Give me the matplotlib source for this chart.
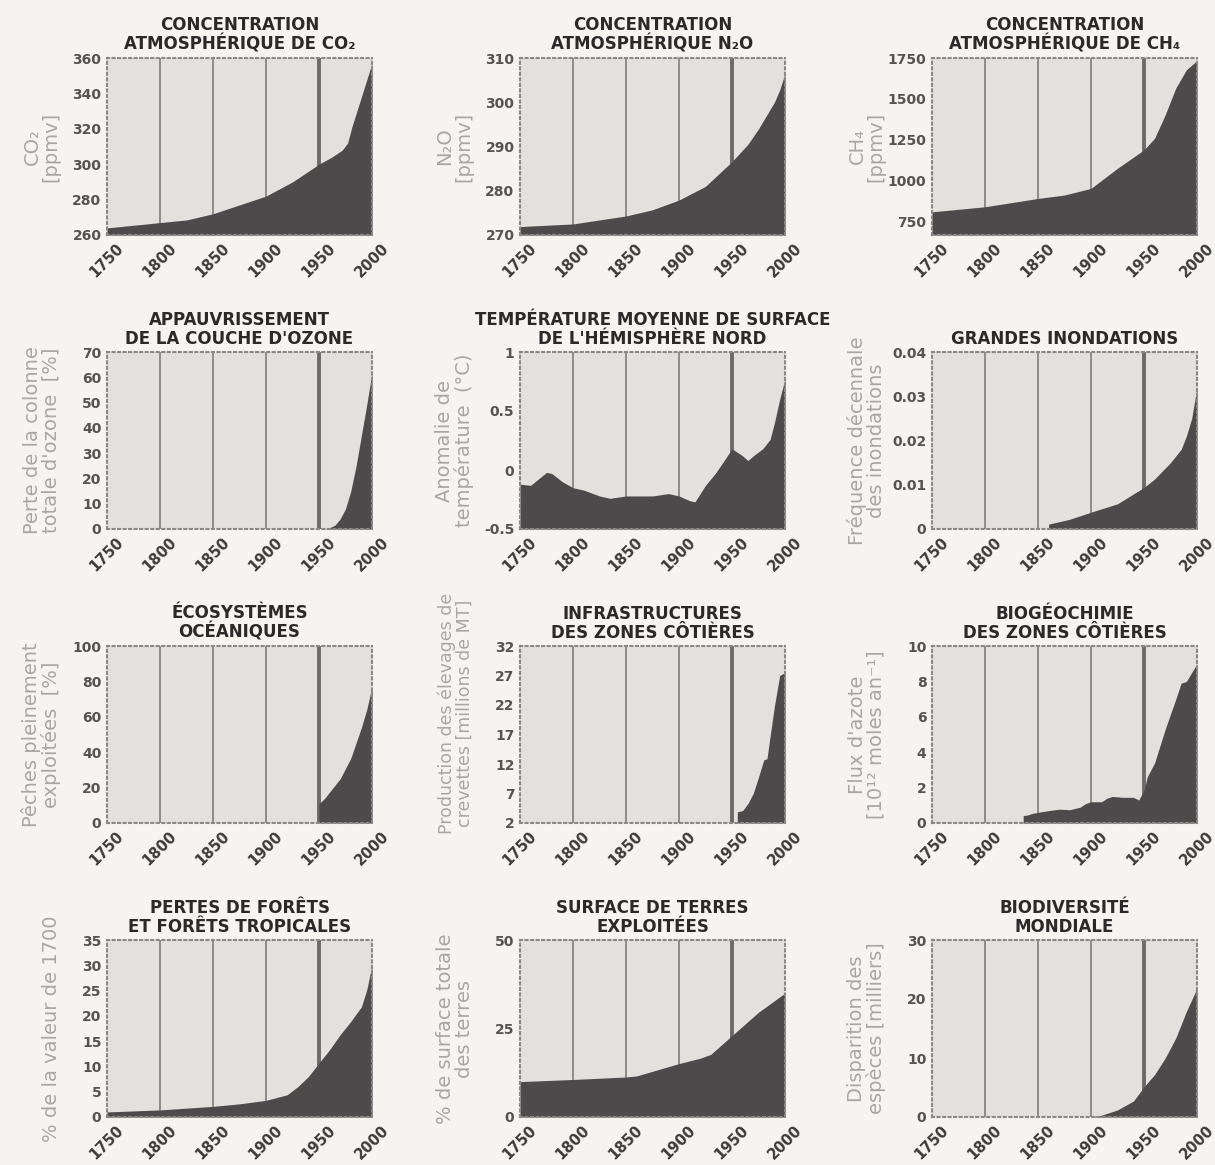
import matplotlib
matplotlib.use("Agg")
import matplotlib.pyplot as plt

# --- données ---
co2_years = [1750, 1800, 1825, 1850, 1875, 1900, 1925, 1950, 1962, 1972, 1977, 1981, 1991, 2000]
co2_ppmv = [264, 267, 268.5, 272, 277, 282, 290, 300, 304, 308, 312, 321, 340, 357]

n2o_years = [1750, 1800, 1850, 1875, 1900, 1925, 1950, 1965, 1975, 1985, 1990, 1995, 2000]
n2o_ppbv = [271.9, 272.5, 274.3, 275.7, 277.9, 281, 286.6, 290.5, 294, 298, 300, 302.8, 306.5]

ch4_years = [1750, 1800, 1850, 1875, 1900, 1925, 1950, 1960, 1970, 1980, 1990, 2000]
ch4_ppbv = [807, 838, 889, 910, 951, 1074, 1187, 1258, 1402, 1566, 1678, 1734]

ozone_years = [1955, 1960, 1965, 1970, 1975, 1980, 1985, 1990, 1995, 2000]
ozone_loss = [0, 0.5, 1.5, 4, 8, 15, 25, 37, 49, 62]

temp_years = [1750, 1760, 1775, 1780, 1790, 1800, 1810, 1825, 1835, 1850, 1875, 1890,
              1900, 1910, 1915, 1925, 1935, 1950, 1960, 1965, 1970, 1979, 1986, 1990,
              1995, 2000]
temp_anom = [-0.12, -0.13, -0.02, -0.03, -0.10, -0.15, -0.17, -0.22, -0.24, -0.22, -0.22,
             -0.20, -0.22, -0.26, -0.27, -0.13, -0.02, 0.18, 0.12, 0.08, 0.12, 0.18, 0.26,
             0.40, 0.60, 0.77]

flood_years = [1860, 1880, 1900, 1925, 1950, 1960, 1975, 1985, 1990, 1995, 2000]
flood_freq = [0.0011, 0.0022, 0.0038, 0.0057, 0.0094, 0.0113, 0.015, 0.018, 0.021, 0.025, 0.032]

fish_years = [1950, 1955, 1960, 1970, 1980, 1990, 1995, 2000]
fish_pct = [11, 13.7, 17.5, 25, 36.6, 54, 64, 77]

shrimp_years = [1955, 1960, 1965, 1970, 1975, 1980, 1983, 1985, 1990, 1995, 2000]
shrimp_mt = [3.9, 4.1, 5.3, 7, 9.8, 12.7, 12.9, 15.5, 21.8, 27, 27.5]

nitro_years = [1836, 1840, 1845, 1850, 1860, 1870, 1880, 1890, 1895, 1900, 1910, 1915,
               1920, 1930, 1940, 1945, 1950, 1953, 1960, 1970, 1980, 1985, 1990, 1995, 2000]
nitro_flux = [0.42, 0.45, 0.55, 0.6, 0.7, 0.78, 0.75, 0.9, 1.1, 1.2, 1.2, 1.4, 1.5, 1.45,
              1.45, 1.3, 1.85, 2.6, 3.4, 5.3, 7.0, 7.9, 8.0, 8.5, 9.0]

forest_years = [1750, 1800, 1850, 1875, 1900, 1920, 1930, 1940, 1950, 1960, 1970, 1980,
                1990, 1995, 2000]
forest_loss = [1.0, 1.4, 2.1, 2.6, 3.3, 4.4, 6.0, 8.0, 10.7, 13.3, 16.3, 18.9, 21.8, 25.1, 30]

land_years = [1750, 1800, 1850, 1860, 1900, 1920, 1930, 1950, 1975, 2000]
land_pct = [10, 10.6, 11.3, 11.6, 15.1, 16.6, 17.7, 23, 29.6, 35]

species_years = [1900, 1910, 1925, 1940, 1950, 1960, 1970, 1980, 1990, 2000]
species_lost = [0, 0.3, 1.2, 2.7, 5.1, 7.2, 10, 13.4, 17.9, 21.8]

x_ticks = [1750, 1800, 1850, 1900, 1950, 2000]

# titre, label y, années, valeurs, limites y, ticks y, labels ticks y
panels = [
    ("CONCENTRATION\nATMOSPHÉRIQUE DE CO₂", "CO₂\n[ppmv]", co2_years, co2_ppmv,
     (260, 360), [260, 280, 300, 320, 340, 360], None),
    ("CONCENTRATION\nATMOSPHÉRIQUE N₂O", "N₂O\n[ppmv]", n2o_years, n2o_ppbv,
     (270, 310), [270, 280, 290, 300, 310], None),
    ("CONCENTRATION\nATMOSPHÉRIQUE DE CH₄", "CH₄\n[ppmv]", ch4_years, ch4_ppbv,
     (665, 1750), [750, 1000, 1250, 1500, 1750], None),
    ("APPAUVRISSEMENT\nDE LA COUCHE D'OZONE", "Perte de la colonne\ntotale d'ozone  [%]",
     ozone_years, ozone_loss, (0, 70), [0, 10, 20, 30, 40, 50, 60, 70], None),
    ("TEMPÉRATURE MOYENNE DE SURFACE\nDE L'HÉMISPHÈRE NORD", "Anomalie de\ntempérature  (°C)",
     temp_years, temp_anom, (-0.5, 1), [-0.5, 0, 0.5, 1], ["-0.5", "0", "0.5", "1"]),
    ("GRANDES INONDATIONS", "Fréquence décennale\ndes inondations", flood_years, flood_freq,
     (0, 0.04), [0, 0.01, 0.02, 0.03, 0.04], ["0", "0.01", "0.02", "0.03", "0.04"]),
    ("ÉCOSYSTÈMES\nOCÉANIQUES", "Pêches pleinement\nexploitées  [%]", fish_years, fish_pct,
     (0, 100), [0, 20, 40, 60, 80, 100], None),
    ("INFRASTRUCTURES\nDES ZONES CÔTIÈRES", "Production des élevages de\ncrevettes [millions de MT]",
     shrimp_years, shrimp_mt, (2, 32), [2, 7, 12, 17, 22, 27, 32], None),
    ("BIOGÉOCHIMIE\nDES ZONES CÔTIÈRES", "Flux d'azote\n[10¹² moles an⁻¹]", nitro_years, nitro_flux,
     (0, 10), [0, 2, 4, 6, 8, 10], None),
    ("PERTES DE FORÊTS\nET FORÊTS TROPICALES", "% de la valeur de 1700", forest_years, forest_loss,
     (0, 35), [0, 5, 10, 15, 20, 25, 30, 35], None),
    ("SURFACE DE TERRES\nEXPLOITÉES", "% de surface totale\ndes terres", land_years, land_pct,
     (0, 50), [0, 25, 50], None),
    ("BIODIVERSITÉ\nMONDIALE", "Disparition des\nespèces [milliers]", species_years, species_lost,
     (0, 30), [0, 10, 20, 30], None),
]

W, H = 1215, 1165
fig = plt.figure(figsize=(W / 100, H / 100), dpi=100, facecolor="#f6f4f1")

col_left = [107, 520, 932]
row_top = [58, 352, 646, 940]
ax_w, ax_h = 265, 177

for i, (title, ylabel, years, vals, ylim, yticks, ytl) in enumerate(panels):
    r, c = divmod(i, 3)
    ax = fig.add_axes([col_left[c] / W, 1 - (row_top[r] + ax_h) / H, ax_w / W, ax_h / H])
    ax.set_facecolor("#e3e0de")

    # lignes verticales (1950 plus épaisse)
    for yr in [1800, 1850, 1900]:
        ax.axvline(yr, color="#8a8585", lw=1.3, zorder=1)
    ax.axvline(1950, color="#6f6a6a", lw=2.8, zorder=1)

    ax.fill_between(years, ylim[0], vals, color="#4e494a", lw=0, zorder=2)

    ax.set_xlim(1750, 2000)
    ax.set_ylim(*ylim)
    ax.set_xticks(x_ticks)
    ax.set_xticklabels([str(x) for x in x_ticks], rotation=45, ha="center",
                       fontsize=10.5, fontweight="bold", color="#3c3a3a")
    ax.set_yticks(yticks)
    if ytl is not None:
        ax.set_yticklabels(ytl)
    ax.tick_params(length=0, pad=4)
    for lab in ax.get_yticklabels():
        lab.set_fontsize(10)
        lab.set_fontweight("bold")
        lab.set_color("#565353")

    for sp in ax.spines.values():
        sp.set_color("#8c8888")
        sp.set_linewidth(1.5)
        sp.set_linestyle(":")

    ax.set_title(title, fontsize=12, fontweight="bold", color="#2b2929", pad=6, linespacing=1.05)
    ax.set_ylabel(ylabel, fontsize=12.5 if i == 7 else 14, color="#aaa6a3", linespacing=1.0)
    ypos = 0.62 if i == 7 else 0.5
    ax.yaxis.set_label_coords(-0.175, ypos)

fig.savefig("out.png", dpi=100, facecolor=fig.get_facecolor())
